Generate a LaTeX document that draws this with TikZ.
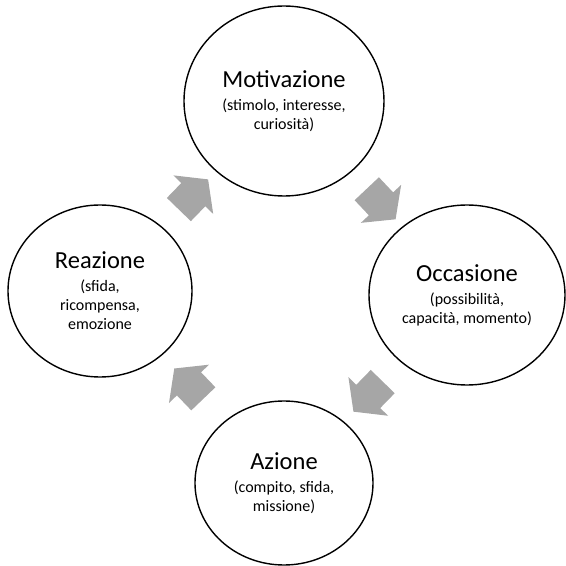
\documentclass[tikz,border=0pt]{standalone}
\usepackage{fontspec}
\setmainfont{Carlito}
\usepackage{tikz}
\usetikzlibrary{shapes.geometric,shapes.arrows,calc}
\usepackage{xcolor}
\definecolor{cyclegray}{HTML}{A6A6A6}
\newcommand{\phasetitle}{\fontsize{24.5}{28}\selectfont}

\begin{document}
\begin{tikzpicture}[x=1pt, y=1pt,
  phase/.style={draw, ellipse, line width=1.4pt, align=center, inner sep=0pt,
    font=\fontsize{16}{19}\selectfont},
  cyclearrow/.style={single arrow, fill=cyclegray, draw=none,
    inner xsep=0pt, inner ysep=16.5pt, minimum height=42pt,
    single arrow head extend=11pt, single arrow tip angle=105,
    allow upside down}]
\useasboundingbox (0,0) rectangle (566,566);

% Phases of the cycle
\node[phase, minimum width=200pt, minimum height=190pt] (motiv) at (284,465)
  {{\phasetitle Motivazione}\\[4pt] (stimolo, interesse,\\ curiosità)};
\node[phase, minimum width=196pt, minimum height=180pt] (occas) at (467,271)
  {{\phasetitle Occasione}\\[4pt] (possibilità,\\ capacità, momento)};
\node[phase, minimum width=178pt, minimum height=164pt] (azione) at (284,83)
  {{\phasetitle Azione}\\[4pt] (compito, sfida,\\ missione)};
\node[phase, minimum width=184pt, minimum height=172pt] (reaz) at (100,275)
  {{\phasetitle Reazione}\\[4pt] (sfida,\\ ricompensa,\\ emozione};

% Block arrows between phases
\path (reaz) -- node[cyclearrow, sloped] (a1) {} (motiv);
\path (motiv) -- node[cyclearrow, sloped] (a2) {} (occas);
\path (occas) -- node[cyclearrow, sloped] (a3) {} (azione);
\path (azione) -- node[cyclearrow, sloped] (a4) {} (reaz);
\end{tikzpicture}
\end{document}
